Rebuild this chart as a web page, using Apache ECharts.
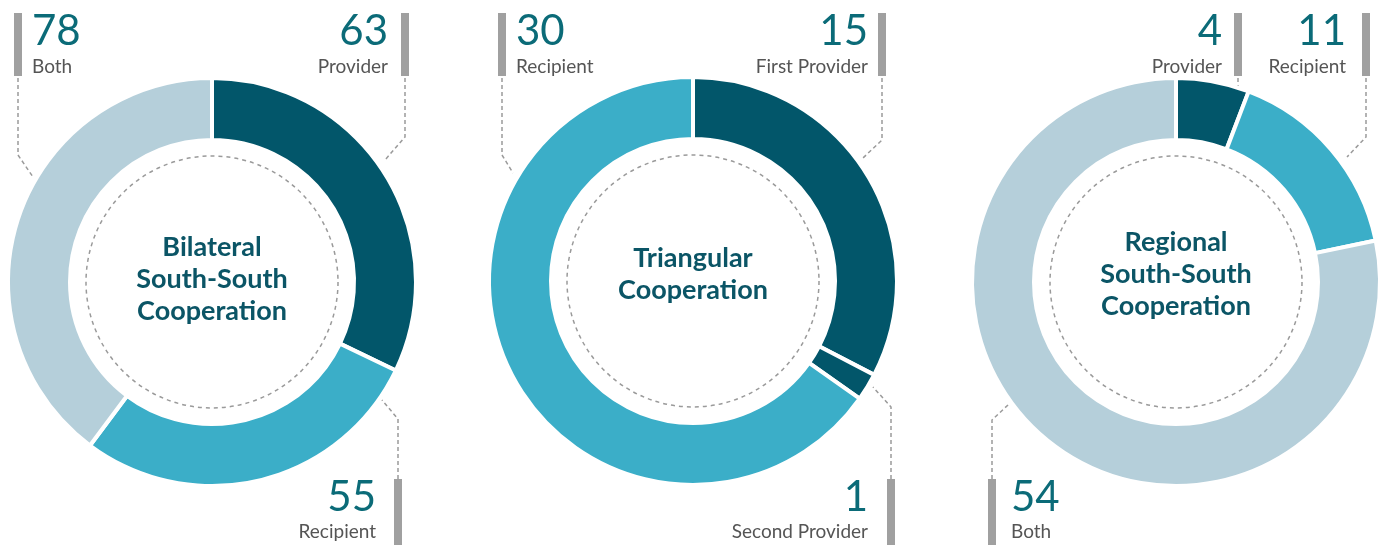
<!DOCTYPE html>
<html>
<head>
<meta charset="utf-8">
<script src="https://cdn.jsdelivr.net/npm/echarts@6/dist/echarts.min.js"></script>
<style>
  html, body { margin: 0; padding: 0; background: #fff; }
  #main { width: 1387px; height: 545px; }
</style>
</head>
<body>
<div id="main"></div>
<script>
var titles = ['Bilateral\nSouth-South\nCooperation', 'Triangular\nCooperation', 'Regional\nSouth-South\nCooperation'];

var bilateralNames = ['Provider', 'Recipient', 'Both'];
var bilateralValues = [63, 55, 78];
var triangularNames = ['First Provider', 'Second Provider', 'Recipient'];
var triangularValues = [15, 1, 30];
var regionalNames = ['Provider', 'Recipient', 'Both'];
var regionalValues = [4, 11, 54];

var names = [bilateralNames, triangularNames, regionalNames];
var values = [bilateralValues, triangularValues, regionalValues];

var dark = '#02566a', mid = '#3baec8', light = '#b5cfda';
var sliceColors = [[dark, mid, light], [dark, dark, mid], [dark, mid, light]];
var centers = [[212, 282], [693, 281], [1176, 282]];
var titleY = [279, 274, 274];

// callouts: chart, slice index, bar x, top/bottom, text anchor, leader line
var callouts = [
  { c: 0, i: 2, bar: 14, pos: 'top', tx: 32, align: 'left', leader: [[18, 78], [18, 155], [33, 177]] },
  { c: 0, i: 0, bar: 401, pos: 'top', tx: 388, align: 'right', leader: [[405, 78], [405, 137], [385, 160]] },
  { c: 0, i: 1, bar: 394, pos: 'bottom', tx: 376, align: 'right', leader: [[398, 479], [398, 419], [382, 400]] },
  { c: 1, i: 2, bar: 498, pos: 'top', tx: 516, align: 'left', leader: [[502, 78], [502, 155], [513, 173]] },
  { c: 1, i: 0, bar: 878, pos: 'top', tx: 868, align: 'right', leader: [[882, 78], [882, 140], [863, 158]] },
  { c: 1, i: 1, bar: 887, pos: 'bottom', tx: 868, align: 'right', leader: [[891, 479], [891, 407], [873, 387]] },
  { c: 2, i: 0, bar: 1234, pos: 'top', tx: 1222, align: 'right', leader: [[1238, 78], [1238, 88]] },
  { c: 2, i: 1, bar: 1362, pos: 'top', tx: 1346, align: 'right', leader: [[1366, 78], [1366, 137], [1347, 157]] },
  { c: 2, i: 2, bar: 988, pos: 'bottom', tx: 1011, align: 'left', leader: [[992, 479], [992, 420], [1009, 404]] }
];

var chart = echarts.init(document.getElementById('main'));

var series = [];
var graphic = [];

for (var k = 0; k < 3; k++) {
  var data = [];
  for (var j = 0; j < values[k].length; j++) {
    data.push({ name: names[k][j], value: values[k][j], itemStyle: { color: sliceColors[k][j] } });
  }
  series.push({
    type: 'pie',
    center: centers[k],
    radius: [142, 204],
    startAngle: 90,
    silent: true,
    label: { show: false },
    labelLine: { show: false },
    itemStyle: { borderColor: '#fff', borderWidth: 4 },
    data: data
  });

  // dashed inner ring
  graphic.push({
    type: 'circle',
    shape: { cx: centers[k][0], cy: centers[k][1], r: 126 },
    style: { fill: 'none', stroke: '#9a9a9a', lineWidth: 1.5, lineDash: [4, 4] }
  });
  graphic.push({
    type: 'text',
    x: centers[k][0],
    y: titleY[k],
    style: {
      text: titles[k],
      font: 'bold 27px Lato',
      fill: '#0b5566',
      lineHeight: 32,
      align: 'center',
      verticalAlign: 'middle'
    }
  });
}

callouts.forEach(function (co) {
  var top = co.pos === 'top';
  graphic.push({
    type: 'rect',
    shape: { x: co.bar, y: top ? 13 : 479, width: 8, height: top ? 63 : 66 },
    style: { fill: '#a0a0a0' }
  });
  graphic.push({
    type: 'polyline',
    shape: { points: co.leader },
    style: { stroke: '#9a9a9a', lineWidth: 1.5, lineDash: [4, 3], fill: 'none' }
  });
  graphic.push({
    type: 'text',
    x: co.tx,
    y: top ? 31 : 497,
    style: {
      text: String(values[co.c][co.i]),
      font: '42px Lato',
      fill: '#0b6b78',
      align: co.align,
      verticalAlign: 'middle'
    }
  });
  graphic.push({
    type: 'text',
    x: co.tx,
    y: top ? 67 : 532,
    style: {
      text: names[co.c][co.i],
      font: '19px Lato',
      fill: '#555555',
      align: co.align,
      verticalAlign: 'middle'
    }
  });
});

var option = {
  backgroundColor: '#fff',
  animation: false,
  series: series,
  graphic: graphic
};

chart.setOption(option);
</script>
</body>
</html>
